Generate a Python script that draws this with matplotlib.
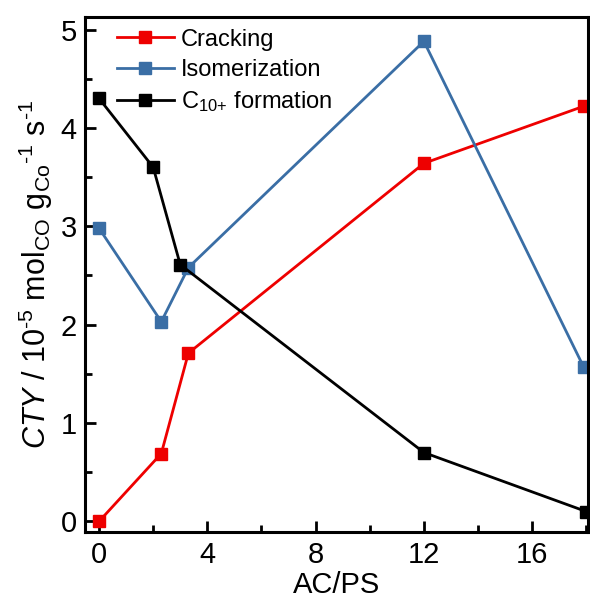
import matplotlib
matplotlib.use("Agg")
import matplotlib.pyplot as plt
from matplotlib.ticker import MultipleLocator

plt.rcParams['font.family'] = ['Liberation Sans', 'DejaVu Sans']
plt.rcParams['mathtext.fontset'] = 'custom'
plt.rcParams['mathtext.rm'] = 'Liberation Sans'
plt.rcParams['mathtext.it'] = 'Liberation Sans:italic'

# data
crack_x = [0, 2.3, 3.3, 12, 17.9]
crack_y = [0.0, 0.69, 1.71, 3.64, 4.22]

iso_x = [0, 2.3, 3.3, 12, 17.9]
iso_y = [2.98, 2.03, 2.58, 4.88, 1.57]

c10_x = [0, 2.0, 3.0, 12, 18]
c10_y = [4.30, 3.60, 2.61, 0.70, 0.10]

fig = plt.figure(figsize=(5.9, 5.98), dpi=100)
ax = fig.add_axes([0.144, 0.110, 0.853, 0.862])

ax.plot(crack_x, crack_y, color="#ee0000", lw=2, marker="s", ms=8, label="Cracking")
ax.plot(iso_x, iso_y, color="#3a6ea5", lw=2, marker="s", ms=8, label="Isomerization")
ax.plot(c10_x, c10_y, color="black", lw=2, marker="s", ms=8,
        label="C$_{10{+}}$ formation")

ax.set_xlim(-0.52, 18.07)
ax.set_ylim(-0.11, 5.13)
ax.xaxis.set_major_locator(MultipleLocator(4))
ax.xaxis.set_minor_locator(MultipleLocator(2))
ax.yaxis.set_major_locator(MultipleLocator(1))
ax.yaxis.set_minor_locator(MultipleLocator(0.5))
ax.tick_params(which="both", direction="in", width=2, labelsize=21, top=False, right=False)
ax.tick_params(which="major", length=8, pad=6)
ax.tick_params(which="minor", length=5)
for s in ax.spines.values():
    s.set_linewidth(2.2)

hy = "\u2010"
ax.set_xlabel("AC/PS", fontsize=21, labelpad=2)
ax.set_ylabel(r"$\it{CTY}$ / 10$^{" + hy + r"5}$ mol$_{\rm CO}$ g$_{\rm Co}$$^{" + hy
              + r"1}$ s$^{" + hy + r"1}$", fontsize=22, labelpad=4)

ax.legend(loc="upper left", fontsize=17, frameon=False, handlelength=2.4,
          handletextpad=0.3, labelspacing=0.35, borderaxespad=0.1,
          bbox_to_anchor=(0.04, 1.0))

fig.savefig("out.png", dpi=100)
